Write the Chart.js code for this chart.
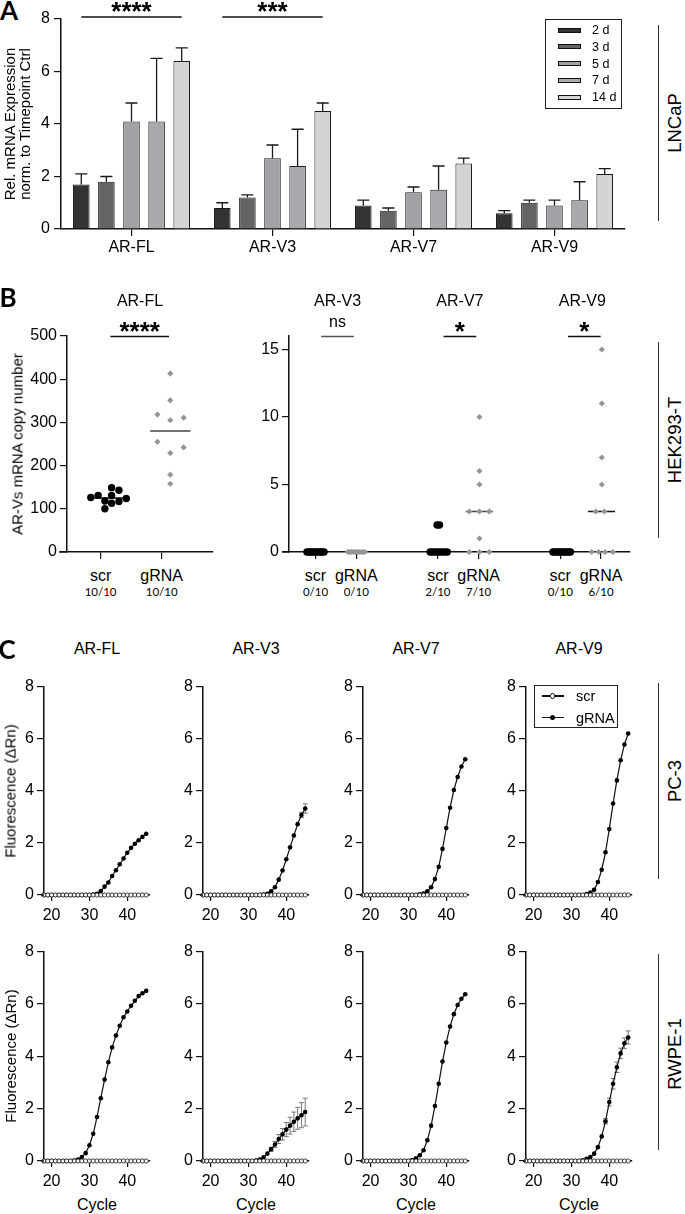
<!DOCTYPE html>
<html lang="en">
<head>
<meta charset="UTF-8">
<title>AR variant expression</title>
<script src="https://cdn.jsdelivr.net/npm/chart.js"></script>
<style>
  html, body { margin: 0; padding: 0; background: #fff; }
  body { position: relative; width: 685px; height: 1214px; overflow: hidden;
         font-family: 'Liberation Sans', Arial, sans-serif; color: #000; }
  canvas { position: absolute; }
  .t { position: absolute; white-space: nowrap; line-height: 1; font-size: 16px;
       transform: translate(-50%, -50%); text-align: center; }
  .t.rot { transform: translate(-50%, -50%) rotate(-90deg); }
  .t.left { transform: translate(0, -50%); text-align: left; }
  .panel { font-family: Lato, sans-serif; font-weight: bold; font-size: 26px; }
  .frac { font-family: Lato, sans-serif; font-size: 11.5px; }
  .box { position: absolute; border: 1.5px solid #222; box-sizing: border-box; }
  .blk { position: absolute; box-sizing: border-box; }
</style>
</head>
<body>
<script>
// ---------- data ----------
const variants = ['AR-FL', 'AR-V3', 'AR-V7', 'AR-V9'];
const cellLines = ['LNCaP', 'HEK293-T', 'PC-3', 'RWPE-1'];

// A: LNCaP, relative expression per timepoint (mean, SD) for AR-FL, V3, V7, V9
const days = ['2 d', '3 d', '5 d', '7 d', '14 d'];
const day2 = [1.7, 0.8, 0.9, 0.6];
const day3 = [1.8, 1.2, 0.7, 1.0];
const day5 = [4.1, 2.7, 1.4, 0.9];
const day7 = [4.1, 2.4, 1.5, 1.1];
const day14 = [6.4, 4.5, 2.5, 2.1];
const sd2 = [0.4, 0.2, 0.2, 0.1];
const sd3 = [0.2, 0.1, 0.1, 0.1];
const sd5 = [0.7, 0.5, 0.2, 0.2];
const sd7 = [2.4, 1.4, 0.9, 0.7];
const sd14 = [0.5, 0.3, 0.2, 0.2];
const sigA = ['****', '***'];          // over AR-FL and AR-V3

// B: HEK293-T copy numbers (x = jittered position, y = copies)
const groupsB = ['scr', 'gRNA'];
const flScrX = [0.84, 0.96, 1.18, 1.30, 1.42, 1.18, 1.07, 1.18, 1.30, 1.07];
const flScr  = [126, 131, 149, 143, 124, 131, 118, 113, 117, 100];
const flGX   = [2.14, 2.14, 1.93, 2.14, 2.36, 1.93, 2.36, 2.14, 2.14, 2.14];
const flG    = [413, 351, 318, 305, 311, 255, 242, 229, 179, 158];
const v3ScrX = [-0.21, -0.16, -0.12, -0.07, -0.02, 0.02, 0.07, 0.12, 0.16, 0.21];
const v3Scr  = [0, 0, 0, 0, 0, 0, 0, 0, 0, 0];
const v3GX   = [0.79, 0.84, 0.88, 0.93, 0.98, 1.02, 1.07, 1.12, 1.16, 1.21];
const v3G    = [0, 0, 0, 0, 0, 0, 0, 0, 0, 0];
const v7ScrX = [2.81, 2.87, 2.93, 2.99, 3.05, 3.11, 3.17, 3.23, 2.98, 3.04];
const v7Scr  = [0, 0, 0, 0, 0, 0, 0, 0, 2, 2];
const v7GX   = [4.02, 4.02, 4.02, 3.77, 4.02, 4.26, 4.02, 3.77, 4.02, 4.26];
const v7G    = [10, 6, 5, 3, 3, 3, 1, 0, 0, 0];
const v9ScrX = [5.82, 5.87, 5.92, 5.97, 6.02, 6.06, 6.11, 6.16, 6.21, 6.25];
const v9Scr  = [0, 0, 0, 0, 0, 0, 0, 0, 0, 0];
const v9GX   = [7.02, 7.02, 7.02, 7.02, 6.87, 7.08, 6.77, 6.94, 7.10, 7.29];
const v9G    = [15, 11, 7, 5, 3, 3, 0, 0, 0, 0];
const detectFL = ['10/10', '10/10'];
const detectV = ['0/10', '0/10', '2/10', '7/10', '0/10', '6/10'];
const sigB = ['****', 'ns', '*', '*'];

// C: amplification curves, cycles 18-45
const cycles = [18, 19, 20, 21, 22, 23, 24, 25, 26, 27, 28, 29, 30, 31, 32, 33, 34, 35, 36, 37, 38, 39, 40, 41, 42, 43, 44, 45];
const scrCurve = [0, 0, 0, 0, 0, 0, 0, 0, 0, 0, 0, 0, 0, 0, 0, 0, 0, 0, 0, 0, 0, 0, 0, 0, 0, 0, 0, 0];
const flPC3 = [0, 0, 0, 0, 0, 0, 0, 0, 0, 0, 0, 0, 0, 0.02, 0.05, 0.15, 0.32, 0.48, 0.73, 0.95, 1.18, 1.4, 1.62, 1.81, 1.97, 2.1, 2.23, 2.35];
const v3PC3 = [0, 0, 0, 0, 0, 0, 0, 0, 0, 0, 0, 0, 0, 0, 0, 0, 0.02, 0.05, 0.14, 0.3, 0.59, 0.94, 1.37, 1.83, 2.28, 2.72, 3.07, 3.32];
const v7PC3 = [0, 0, 0, 0, 0, 0, 0, 0, 0, 0, 0, 0, 0, 0, 0, 0.03, 0.06, 0.14, 0.3, 0.61, 1.08, 1.77, 2.57, 3.35, 4.03, 4.53, 4.93, 5.21];
const v9PC3 = [0, 0, 0, 0, 0, 0, 0, 0, 0, 0, 0, 0, 0, 0, 0, 0, 0.04, 0.09, 0.2, 0.5, 0.97, 1.64, 2.53, 3.51, 4.4, 5.17, 5.78, 6.2];
const flRW = [0, 0, 0, 0, 0, 0, 0, 0, 0.02, 0.06, 0.15, 0.3, 0.6, 1.04, 1.68, 2.4, 3.11, 3.77, 4.34, 4.79, 5.17, 5.49, 5.71, 5.93, 6.12, 6.3, 6.41, 6.5];
const v3RW = [0, 0, 0, 0, 0, 0, 0, 0, 0, 0, 0, 0, 0, 0, 0.02, 0.06, 0.14, 0.28, 0.45, 0.63, 0.84, 1.02, 1.2, 1.35, 1.5, 1.63, 1.75, 1.87];
const v7RW = [0, 0, 0, 0, 0, 0, 0, 0, 0, 0, 0, 0, 0, 0.04, 0.1, 0.22, 0.41, 0.79, 1.35, 2.1, 2.95, 3.8, 4.53, 5.14, 5.61, 5.96, 6.2, 6.37];
const v9RW = [0, 0, 0, 0, 0, 0, 0, 0, 0, 0, 0, 0, 0, 0, 0, 0.03, 0.08, 0.15, 0.28, 0.53, 0.94, 1.52, 2.25, 2.95, 3.58, 4.11, 4.5, 4.72];
const v3PC3sd = [0, 0, 0, 0, 0, 0, 0, 0, 0, 0, 0, 0, 0, 0, 0, 0, 0, 0, 0, 0, 0, 0, 0, 0, 0, 0, 0.1, 0.18];
const v3RWsd = [0, 0, 0, 0, 0, 0, 0, 0, 0, 0, 0, 0, 0, 0, 0, 0, 0, 0, 0.08, 0.12, 0.17, 0.22, 0.27, 0.32, 0.37, 0.42, 0.48, 0.53];
const v9RWsd = [0, 0, 0, 0, 0, 0, 0, 0, 0, 0, 0, 0, 0, 0, 0, 0, 0, 0, 0, 0, 0, 0.1, 0.15, 0.2, 0.2, 0.2, 0.2, 0.25];
const cycleTicks = [20, 30, 40];

// ---------- helpers ----------
Chart.defaults.font.family = "'Liberation Sans', Arial, sans-serif";
Chart.defaults.font.size = 16;
Chart.defaults.color = '#000';
Chart.defaults.animation = false;
Chart.defaults.plugins.legend.display = false;
Chart.defaults.plugins.tooltip.enabled = false;

function el(cls, css, html) {
  const d = document.createElement('div');
  d.className = cls;
  Object.assign(d.style, css);
  if (html !== undefined) d.innerHTML = html;
  document.body.appendChild(d);
  return d;
}
function txt(s, x, y, cls = '', css = {}) {
  return el('t ' + cls, Object.assign({ left: x + 'px', top: y + 'px' }, css), s);
}

function axisOpts(o) {
  return {
    type: o.type || 'linear', min: o.min, max: o.max, offset: !!o.offset,
    grid: { drawOnChartArea: false, tickLength: o.tl || 7, color: '#111', lineWidth: 1.2, offset: false },
    border: { color: '#111', width: 1.5 },
    ticks: { padding: o.pad === undefined ? 3 : o.pad, display: o.show !== false, stepSize: o.step },
    afterBuildTicks: o.values ? s => { s.ticks = o.values.map(v => ({ value: v })); } : undefined
  };
}

// x axis line running a few px left of the y axis, as in the original
function axisStub(n) {
  return {
    id: 'axisStub',
    afterDraw(chart) {
      const a = chart.chartArea, ctx = chart.ctx;
      ctx.save();
      ctx.strokeStyle = '#111'; ctx.lineWidth = 1.5;
      ctx.beginPath(); ctx.moveTo(a.left - n, a.bottom); ctx.lineTo(a.left, a.bottom); ctx.stroke();
      ctx.restore();
    }
  };
}

// canvas placed so that the plot area lands exactly on `area`
function chartAt(area, pad, config) {
  const w = area.r - area.l + pad.l + pad.r, h = area.b - area.t + pad.t + pad.b;
  const c = document.createElement('canvas');
  c.width = w; c.height = h;
  c.style.left = (area.l - pad.l) + 'px';
  c.style.top = (area.t - pad.t) + 'px';
  document.body.appendChild(c);
  const o = config.options;
  o.responsive = false;
  o.layout = { padding: { left: 0, top: pad.t, right: pad.r, bottom: 0 } };
  o.scales.x.afterFit = s => { s.height = pad.b; };
  o.scales.y.afterFit = s => { s.width = pad.l; };
  return new Chart(c, config);
}

function stars(ctx, s, x, base) {
  ctx.save();
  ctx.fillStyle = '#000';
  ctx.textAlign = 'center';
  ctx.textBaseline = 'alphabetic';
  ctx.font = s === 'ns' ? "16px 'Liberation Sans', Arial" : "bold 26px 'Liberation Sans', Arial";
  ctx.fillText(s, x, s === 'ns' ? base - 10 : base + 3);
  ctx.restore();
}
function hline(ctx, a, b, y, color) {
  ctx.save();
  ctx.strokeStyle = color || '#111';
  ctx.lineWidth = 1.5;
  ctx.beginPath(); ctx.moveTo(a, y); ctx.lineTo(b, y); ctx.stroke();
  ctx.restore();
}

// ---------- A ----------
const barErr = {
  id: 'barErr',
  afterDatasetsDraw(chart) {
    const ctx = chart.ctx, y = chart.scales.y;
    chart.data.datasets.forEach((ds, i) => {
      chart.getDatasetMeta(i).data.forEach((bar, j) => {
        const top = y.getPixelForValue(ds.data[j] + ds.sd[j]);
        ctx.save();
        ctx.strokeStyle = '#1a1a1a'; ctx.lineWidth = 1.3;
        ctx.beginPath();
        ctx.moveTo(bar.x, bar.y); ctx.lineTo(bar.x, top);
        ctx.moveTo(bar.x - 6, top); ctx.lineTo(bar.x + 6, top);
        ctx.stroke();
        ctx.restore();
      });
    });
  }
};
const sigAPlugin = {
  id: 'sigA',
  afterDraw(chart) {
    const yy = chart.scales.y.getPixelForValue(8) - 2;
    sigA.forEach((s, k) => {
      const a = chart.getDatasetMeta(0).data[k].x;
      const b = chart.getDatasetMeta(days.length - 1).data[k].x;
      hline(chart.ctx, a, b, yy);
      stars(chart.ctx, s, (a + b) / 2, yy);
    });
  }
};
const dayMeans = [day2, day3, day5, day7, day14];
const daySD = [sd2, sd3, sd5, sd7, sd14];
const dayColors = ['#333333', '#646464', '#a2a2a6', '#a9a9ad', '#d4d4d4'];

chartAt({ l: 61, r: 625, t: 19, b: 229 }, { l: 40, r: 6, t: 19, b: 30 }, {
  type: 'bar',
  data: {
    labels: variants,
    datasets: days.map((d, i) => ({
      label: d, data: dayMeans[i], sd: daySD[i],
      backgroundColor: dayColors[i], borderColor: '#1a1a1a', borderWidth: 1,
      barPercentage: 0.66, categoryPercentage: 0.89
    }))
  },
  options: {
    scales: {
      x: axisOpts({ type: 'category', offset: true, pad: 2 }),
      y: axisOpts({ min: 0, max: 8, step: 2, pad: 4 })
    }
  },
  plugins: [barErr, sigAPlugin]
});

txt('A', 9, 10, 'panel');
txt('Rel. mRNA Expression<br>norm. to Timepoint Ctrl', 17, 124, 'rot', { fontSize: '15px', lineHeight: '14.5px' });
el('box', { left: '545px', top: '19px', width: '77px', height: '90px' });
days.forEach((d, i) => {
  const yc = 30 + i * 16.8;
  el('blk', { left: '558px', top: (yc - 2.5) + 'px', width: '23px', height: '5px',
              background: dayColors[i], border: '1px solid #111' });
  txt(d, 592, yc, 'left', { fontSize: '12.5px' });
});
el('blk', { left: '658px', top: '25px', width: '1px', height: '196px', background: '#333' });
txt(cellLines[0], 675, 123, 'rot', { fontSize: '18.5px' });

// ---------- B ----------
function dots(xs, ys, kind) {
  const scr = kind === 'scr';
  return {
    type: 'scatter', data: xs.map((x, i) => ({ x, y: ys[i] })),
    pointStyle: scr ? 'circle' : 'rectRot', pointRadius: scr ? 3.7 : 3.1,
    backgroundColor: scr ? '#000' : '#959595', borderWidth: 0, clip: false
  };
}
function median(xs, ys, color) {
  const s = [...ys].sort((a, b) => a - b), n = s.length;
  const m = n % 2 ? s[(n - 1) / 2] : (s[n / 2 - 1] + s[n / 2]) / 2;
  const c = xs.reduce((a, b) => a + b, 0) / n;
  return { type: 'line', data: [{ x: c - 0.33, y: m }, { x: c + 0.33, y: m }],
           borderColor: color, borderWidth: 1.5, pointRadius: 0, clip: false };
}
function sigPlugin(bars) {
  return {
    id: 'sig',
    afterDraw(chart) {
      const x = chart.scales.x, y = chart.scales.y;
      const yy = y.getPixelForValue(y.max) + 0.5;
      bars.forEach(b => {
        const a = x.getPixelForValue(b.from), e = x.getPixelForValue(b.to);
        hline(chart.ctx, a, e, yy, b.color);
        stars(chart.ctx, b.text, (a + e) / 2, yy);
      });
    }
  };
}

const bl = { l: 67, r: 213, t: 336, b: 552 }, blMin = 0.45, blMax = 2.84;
chartAt(bl, { l: 45, r: 6, t: 32, b: 14 }, {
  type: 'scatter',
  data: { datasets: [dots(flScrX, flScr, 'scr'), dots(flGX, flG, 'g'),
                     median(flScrX, flScr, '#111'), median(flGX, flG, '#444')] },
  options: {
    scales: {
      x: axisOpts({ min: blMin, max: blMax, values: [1, 2], show: false }),
      y: axisOpts({ min: 0, max: 500, step: 100 })
    }
  },
  plugins: [sigPlugin([{ from: 1.16, to: 2.12, text: sigB[0] }]), axisStub(8)]
});

const br = { l: 289, r: 630, t: 336, b: 552 }, brMin = -0.65, brMax = 7.71;
const posB = [0, 1, 3, 4, 6, 7];
chartAt(br, { l: 45, r: 6, t: 32, b: 14 }, {
  type: 'scatter',
  data: { datasets: [
    dots(v3ScrX, v3Scr, 'scr'), dots(v3GX, v3G, 'g'),
    dots(v7ScrX, v7Scr, 'scr'), dots(v7GX, v7G, 'g'),
    dots(v9ScrX, v9Scr, 'scr'), dots(v9GX, v9G, 'g'),
    median(v7GX, v7G, '#444'), median(v9GX, v9G, '#111')
  ] },
  options: {
    scales: {
      x: axisOpts({ min: brMin, max: brMax, values: posB, show: false }),
      y: axisOpts({ min: 0, max: 16, values: [0, 5, 10, 15] })
    }
  },
  plugins: [sigPlugin([
    { from: 0.14, to: 0.94, text: sigB[1], color: '#555' },
    { from: 3.14, to: 3.94, text: sigB[2] },
    { from: 6.19, to: 6.99, text: sigB[3] }
  ]), axisStub(7)]
});

function px(v, min, max, a) { return a.l + (v - min) / (max - min) * (a.r - a.l); }
txt('B', 8, 297, 'panel');
txt(variants[0], (bl.l + bl.r) / 2, 301);
[0, 3, 6].forEach((g, k) => txt(variants[k + 1], px(g + 0.54, brMin, brMax, br), 301));
txt('AR-Vs mRNA copy number', 17, 444, 'rot', { fontSize: '15px' });
[1, 2].forEach((p, k) => {
  txt(groupsB[k], px(p, blMin, blMax, bl), 576);
  txt(detectFL[k], px(p, blMin, blMax, bl), 592, 'frac');
});
posB.forEach((p, k) => {
  txt(groupsB[k % 2], px(p, brMin, brMax, br), 576);
  txt(detectV[k], px(p, brMin, brMax, br), 592, 'frac');
});
el('blk', { left: '658px', top: '342px', width: '1px', height: '196px', background: '#333' });
txt(cellLines[1], 675, 440, 'rot', { fontSize: '18.5px' });

// ---------- C ----------
const errC = {
  id: 'errC',
  beforeDatasetsDraw(chart) {
    const y = chart.scales.y, ctx = chart.ctx;
    chart.data.datasets.forEach((ds, i) => {
      if (!ds.sd) return;
      chart.getDatasetMeta(i).data.forEach((pt, j) => {
        const e = ds.sd[j];
        if (!e) return;
        const hi = y.getPixelForValue(ds.vals[j] + e), lo = y.getPixelForValue(ds.vals[j] - e);
        ctx.save();
        ctx.strokeStyle = '#777'; ctx.lineWidth = 1;
        ctx.beginPath();
        ctx.moveTo(pt.x, hi); ctx.lineTo(pt.x, lo);
        ctx.moveTo(pt.x - 2.5, hi); ctx.lineTo(pt.x + 2.5, hi);
        ctx.moveTo(pt.x - 2.5, lo); ctx.lineTo(pt.x + 2.5, lo);
        ctx.stroke();
        ctx.restore();
      });
    });
  }
};
const curves = [[flPC3, v3PC3, v7PC3, v9PC3], [flRW, v3RW, v7RW, v9RW]];
const curveSD = [[null, v3PC3sd, null, null], [null, v3RWsd, null, v9RWsd]];
const colL = [44, 203, 363, 526], colW = 106;
const rowT = [686, 951], rowB = [895, 1161];

curves.forEach((row, r) => {
  row.forEach((vals, c) => {
    const area = { l: colL[c], r: colL[c] + colW, t: rowT[r], b: rowB[r] };
    chartAt(area, { l: 40, r: 6, t: 12, b: 28 }, {
      type: 'line',
      data: { datasets: [
        { label: 'scr', data: cycles.map((x, k) => ({ x, y: scrCurve[k] })),
          borderColor: '#111', borderWidth: 1, pointRadius: 2.1,
          pointBackgroundColor: '#fff', pointBorderColor: '#111', pointBorderWidth: 0.8, clip: false },
        { label: 'gRNA', data: cycles.map((x, k) => ({ x, y: vals[k] })), vals, sd: curveSD[r][c],
          borderColor: '#111', borderWidth: 1.2, pointRadius: 2.3,
          pointBackgroundColor: '#000', pointBorderWidth: 0, clip: false }
      ] },
      options: {
        scales: {
          x: axisOpts({ min: 18, max: 46, values: cycleTicks, tl: 6, pad: 5 }),
          y: axisOpts({ min: 0, max: 8, step: 2 })
        }
      },
      plugins: [errC, axisStub(3)]
    });
    if (r === 0) txt(variants[c], area.l + colW / 2, 649);
    else txt('Cycle', area.l + colW / 2, 1205);
  });
  txt('Fluorescence (&Delta;Rn)', 10, (rowT[r] + rowB[r]) / 2, 'rot', { fontSize: '15px' });
});
txt('C', 7, 649, 'panel');

// legend of C
el('box', { left: '534px', top: '685px', width: '84px', height: '43px' });
groupsB.forEach((g, k) => {
  const yc = 696 + k * 21.7;
  el('blk', { left: '542px', top: (yc - 0.6) + 'px', width: '22px', height: '1.2px', background: '#111' });
  el('blk', { left: '550px', top: (yc - 2.6) + 'px', width: '5.2px', height: '5.2px', borderRadius: '50%',
              background: k ? '#000' : '#fff', border: k ? 'none' : '0.9px solid #111' });
  txt(g, 576, yc, 'left', { fontSize: '14.5px' });
});

el('blk', { left: '658px', top: '683px', width: '1px', height: '196px', background: '#333' });
txt(cellLines[2], 675, 781, 'rot', { fontSize: '18.5px' });
el('blk', { left: '658px', top: '954px', width: '1px', height: '196px', background: '#333' });
txt(cellLines[3], 675, 1054, 'rot', { fontSize: '18.5px' });
</script>
</body>
</html>
